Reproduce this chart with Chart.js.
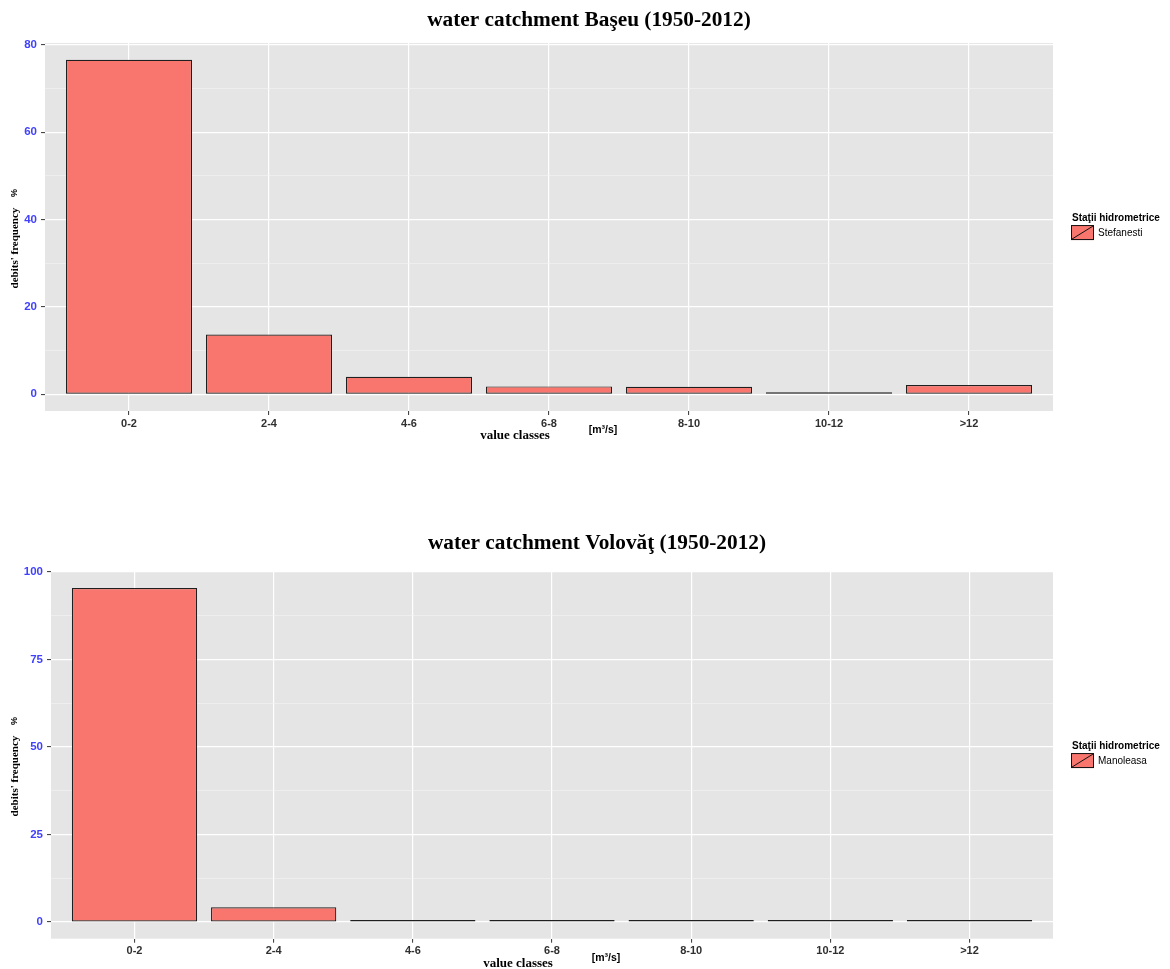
<!DOCTYPE html>
<html>
<head>
<meta charset="utf-8">
<script src="https://cdn.jsdelivr.net/npm/chart.js@4"></script>
<style>
  body { margin: 0; background: #fff; }
  canvas { position: absolute; left: 0; }
  #chartTop { top: 0; }
  #chartBottom { top: 522px; }
</style>
</head>
<body>
<canvas id="chartTop" width="1170" height="470"></canvas>
<canvas id="chartBottom" width="1170" height="447"></canvas>
<script>
const classes = ['0-2', '2-4', '4-6', '6-8', '8-10', '10-12', '>12'];
const stefanesti = [76.6, 13.7, 4.0, 1.8, 1.7, 0.45, 2.1];
const manoleasa = [95.4, 4.2, 0.6, 0.1, 0.1, 0.1, 0.1];
const majorTop = [0, 20, 40, 60, 80];
const minorTop = [10, 30, 50, 70];
const majorBottom = [0, 25, 50, 75, 100];
const minorBottom = [12.5, 37.5, 62.5, 87.5];

// grey ggplot panel, titles and the legend
const panelPlugin = {
  id: 'panel',
  beforeDraw(chart) {
    const a = chart.chartArea, ctx = chart.ctx;
    ctx.save();
    ctx.fillStyle = '#e5e5e5';
    ctx.fillRect(a.left, a.top, a.width, a.height);
    ctx.restore();
  },
  afterDraw(chart, args, opts) {
    const a = chart.chartArea, ctx = chart.ctx;
    const cx = (a.left + a.right) / 2, cy = (a.top + a.bottom) / 2;
    ctx.save();
    ctx.fillStyle = '#000';
    ctx.textAlign = 'center';
    ctx.textBaseline = 'middle';

    ctx.font = 'bold 21.3px "Liberation Serif"';
    ctx.fillText(opts.title, opts.titleX, opts.titleY);

    ctx.save();
    ctx.translate(15, cy);
    ctx.rotate(-Math.PI / 2);
    ctx.font = 'bold 11px "Liberation Serif"';
    ctx.fillText("debits' frequency", -21, 0);
    ctx.font = 'bold 9px "Liberation Sans"';
    ctx.fillText('%', 34, 0);
    ctx.restore();

    ctx.font = 'bold 13px "Liberation Serif"';
    ctx.fillText('value classes', cx - 34, a.bottom + 25);
    ctx.font = 'bold 10.5px "Liberation Sans"';
    ctx.fillText('[m³/s]', cx + 54, a.bottom + 19);

    const ds = chart.data.datasets[0];
    const lx = a.right + 18;
    ctx.textAlign = 'left';
    ctx.font = 'bold 10px "Liberation Sans"';
    ctx.fillText(opts.legendTitle, lx + 1, cy - 9);
    ctx.fillStyle = ds.backgroundColor;
    ctx.fillRect(lx, cy - 2, 23, 15);
    ctx.strokeStyle = '#111';
    ctx.lineWidth = 1;
    ctx.strokeRect(lx + 0.5, cy - 1.5, 22, 14);
    ctx.beginPath();
    ctx.moveTo(lx + 1, cy + 12);
    ctx.lineTo(lx + 22, cy - 1);
    ctx.stroke();
    ctx.fillStyle = '#000';
    ctx.font = '10px "Liberation Sans"';
    ctx.fillText(ds.label, lx + 27, cy + 6);
    ctx.restore();
  }
};

function makeChart(id, title, titleX, titleY, label, values, major, minor, yWidth, xHeight, topPad) {
  const top = Math.max(...values);
  const yTicks = major.concat(minor).sort((p, q) => p - q);
  const isMajor = c => major.includes(c.tick.value);
  return new Chart(document.getElementById(id), {
    type: 'bar',
    data: {
      datasets: [{
        label: label,
        data: values.map((v, i) => ({ x: i, y: v })),
        backgroundColor: '#F8766D',
        borderColor: '#1f1f1f',
        borderWidth: 1.2,
        borderSkipped: false,
        minBarLength: 2,
        barPercentage: 0.9,
        categoryPercentage: 1.0
      }]
    },
    options: {
      responsive: false,
      animation: false,
      layout: { padding: { left: 0, right: 117, top: topPad, bottom: 0 } },
      plugins: {
        legend: { display: false },
        tooltip: { enabled: false },
        title: { display: false },
        panel: { title: title, titleX: titleX, titleY: titleY, legendTitle: 'Staţii hidrometrice' }
      },
      scales: {
        x: {
          type: 'linear',
          min: -0.6,
          max: classes.length - 0.4,
          offset: false,
          afterBuildTicks: s => { s.ticks = classes.map((c, i) => ({ value: i })); },
          afterFit: s => { s.height = xHeight; },
          ticks: {
            autoSkip: false,
            maxRotation: 0,
            padding: 2,
            color: '#303030',
            font: { family: 'Liberation Sans', size: 11, weight: 'bold' },
            callback: v => classes[v]
          },
          grid: { offset: false, color: '#ffffff', lineWidth: 1.2, tickColor: '#333', tickWidth: 1, tickLength: 4 },
          border: { display: false }
        },
        y: {
          min: -0.05 * top,
          max: 1.05 * top,
          afterBuildTicks: s => { s.ticks = yTicks.map(v => ({ value: v })); },
          afterFit: s => { s.width = yWidth; },
          ticks: {
            autoSkip: false,
            padding: 4,
            color: '#4040ff',
            font: { family: 'Liberation Sans', size: 11.5, weight: 'bold' },
            callback: v => major.includes(v) ? String(v) : ''
          },
          grid: {
            color: c => isMajor(c) ? '#ffffff' : '#f3f3f3',
            lineWidth: c => isMajor(c) ? 1.2 : 0.6,
            tickColor: c => isMajor(c) ? '#333' : 'rgba(0,0,0,0)',
            tickWidth: 1,
            tickLength: 4
          },
          border: { display: false }
        }
      }
    },
    plugins: [panelPlugin]
  });
}

makeChart('chartTop', 'water catchment Başeu (1950-2012)', 589, 20, 'Stefanesti', stefanesti,
  majorTop, minorTop, 45, 59, 43.1);
makeChart('chartBottom', 'water catchment Volovăţ (1950-2012)', 597, 21, 'Manoleasa', manoleasa,
  majorBottom, minorBottom, 51, 30.3, 49.4);
</script>
</body>
</html>
